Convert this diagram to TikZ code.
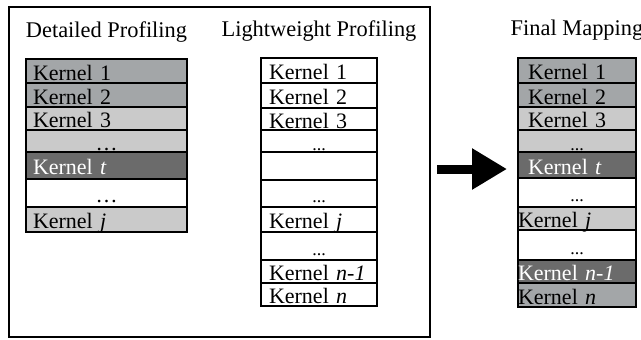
\documentclass[tikz,border=0pt]{standalone}
\usepackage{fontspec}
\setmainfont{Liberation Serif}
\usetikzlibrary{positioning,arrows.meta}

\definecolor{kgray}{HTML}{A3A6A8}
\definecolor{klight}{HTML}{CACACA}
\definecolor{kdark}{HTML}{6B6B6B}

\begin{document}
\begin{tikzpicture}[
  x=0.5pt, y=-0.5pt,
  node distance=0pt,
  title/.style={font=\fontsize{11.2}{13}\selectfont, inner sep=0pt},
  kernel/.style={rectangle, draw=black, line width=1pt, outer sep=0pt, inner ysep=0pt,
    text height=9pt, text depth=0pt, align=left, font=\fontsize{11}{12}\selectfont},
  det/.style={kernel, inner xsep=3.5pt, text width=73.5pt},
  light/.style={kernel, inner xsep=4pt, text width=50pt, fill=white},
  map/.style={kernel, inner xsep=5pt, text width=49pt},
  flush/.style={inner xsep=0pt, text width=59pt},
  dots/.style={align=center},
  hot/.style={fill=kgray},
  warm/.style={fill=klight},
  busy/.style={fill=kdark, text=white},
  frame/.style={rectangle, draw=black, line width=0.75pt, outer sep=0pt},
  arrow-big/.style={line width=4.5pt, -{Triangle[length=17.5pt, width=19.5pt]}}
]
  \useasboundingbox (0,0) rectangle (641,339);

  \node (profiling) [frame, anchor=north west, minimum width=210.5pt, minimum height=165pt] at (9,7) {};

  % detailed profiling
  \node (det-1) [det, hot, anchor=north west, minimum height=12pt] at (26,59) {Kernel 1};
  \node (det-2) [det, hot, below=of det-1, minimum height=12pt] {Kernel 2};
  \node (det-3) [det, warm, below=of det-2, minimum height=11.5pt] {Kernel 3};
  \node (det-4) [det, warm, dots, below=of det-3, minimum height=11pt] {\dots};
  \node (det-5) [det, busy, below=of det-4, minimum height=13.5pt] {Kernel \textit{t}};
  \node (det-6) [det, dots, below=of det-5, minimum height=14pt] {\dots};
  \node (det-7) [det, warm, below=of det-6, minimum height=12.5pt] {Kernel \textit{j}};
  \node (det-title) [title, above=11pt of det-1.north, anchor=base] {Detailed Profiling};

  % lightweight profiling
  \node (light-1) [light, anchor=north west, minimum height=12.5pt] at (261,58) {Kernel 1};
  \node (light-2) [light, below=of light-1, minimum height=12.5pt] {Kernel 2};
  \node (light-3) [light, below=of light-2, minimum height=11pt] {Kernel 3};
  \node (light-4) [light, dots, below=of light-3, minimum height=11pt] {\small ...};
  \node (light-5) [light, below=of light-4, minimum height=14pt] {};
  \node (light-6) [light, dots, below=of light-5, minimum height=13.5pt] {\small ...};
  \node (light-7) [light, below=of light-6, minimum height=12.5pt] {Kernel \textit{j}};
  \node (light-8) [light, dots, below=of light-7, minimum height=14pt] {\small ...};
  \node (light-9) [light, below=of light-8, minimum height=11.5pt] {Kernel \textit{n-1}};
  \node (light-10) [light, below=of light-9, minimum height=11.5pt] {Kernel \textit{n}};
  \node (light-title) [title, above=11pt of light-1.north, anchor=base] {Lightweight Profiling};

  % final mapping
  \node (map-1) [map, hot, anchor=north west, minimum height=12.75pt] at (518,57.5) {Kernel 1};
  \node (map-2) [map, hot, below=of map-1, minimum height=12pt] {Kernel 2};
  \node (map-3) [map, warm, below=of map-2, minimum height=11.5pt] {Kernel 3};
  \node (map-4) [map, warm, dots, below=of map-3, minimum height=11pt] {\small ...};
  \node (map-5) [map, busy, below=of map-4, minimum height=13pt] {Kernel \textit{t}};
  \node (map-6) [map, dots, below=of map-5, minimum height=14.5pt] {\small ...};
  \node (map-7) [map, flush, warm, below=of map-6, minimum height=11.5pt] {Kernel \textit{j}};
  \node (map-8) [map, dots, below=of map-7, minimum height=15pt] {\small ...};
  \node (map-9) [map, flush, busy, below=of map-8, minimum height=11.5pt] {Kernel \textit{n-1}};
  \node (map-10) [map, flush, hot, below=of map-9, minimum height=12pt] {Kernel \textit{n}};
  \node (map-title) [title, above=11pt of map-1.north, anchor=base] {Final Mapping};

  \coordinate (arrow-start) at (437,169);
  \coordinate (arrow-end) at (507,169);
  \draw[arrow-big] (arrow-start) -- (arrow-end);

\end{tikzpicture}
\end{document}
